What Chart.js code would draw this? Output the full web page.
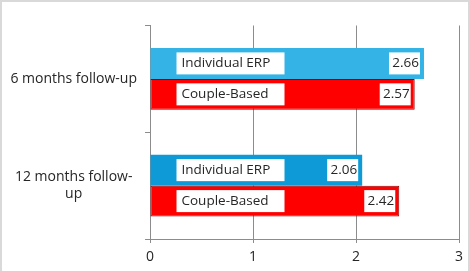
<!DOCTYPE html>
<html>
<head>
<meta charset="utf-8">
<script src="https://cdn.jsdelivr.net/npm/chart.js@4"></script>
<style>
  body { margin: 0; background: #fff; }
  #wrap { position: relative; width: 470px; height: 271px; overflow: hidden; }
  #frame { position: absolute; left: 0; top: 0; width: 466px; height: 290px; border: 2px solid #d9d9d9; pointer-events: none; }
</style>
</head>
<body>
<div id="wrap">
  <canvas id="myChart" width="470" height="271"></canvas>
  <div id="frame"></div>
</div>
<script>
var categories = ['6 months follow-up', ['12 months follow-', 'up']];
var seriesNames = ['Individual ERP', 'Couple-Based'];
var individualErp = [2.66, 2.06];
var coupleBased = [2.57, 2.42];
var xTicks = [0, 1, 2, 3];

var textColor = '#262626';
var gridColor = '#8c8c8c';

// white boxes with the series name and the value inside each bar
var barLabels = {
  id: 'barLabels',
  afterDatasetsDraw: function(chart) {
    var ctx = chart.ctx;
    ctx.save();
    ctx.font = '13.5px "Open Sans"';
    ctx.textBaseline = 'middle';
    chart.data.datasets.forEach(function(ds, di) {
      chart.getDatasetMeta(di).data.forEach(function(bar, i) {
        var p = bar.getProps(['x', 'y', 'base'], true);
        ctx.fillStyle = '#fff';
        ctx.fillRect(p.base + 26, p.y - 11, 108, 22);
        ctx.fillStyle = textColor;
        ctx.textAlign = 'left';
        ctx.fillText(ds.label, p.base + 31, p.y);

        ctx.fillStyle = '#fff';
        ctx.fillRect(p.x - 35, p.y - 11, 31, 22);
        ctx.fillStyle = textColor;
        ctx.textAlign = 'right';
        ctx.fillText(ds.data[i].toFixed(2), p.x - 5, p.y);
      });
    });
    ctx.restore();
  }
};

var ctx = document.getElementById('myChart').getContext('2d');
var chart = new Chart(ctx, {
  type: 'bar',
  data: {
    labels: categories,
    datasets: [{
      label: seriesNames[0],
      data: individualErp,
      backgroundColor: ['#33b3e6', '#0d9ad6'],
      borderWidth: 0
    }, {
      label: seriesNames[1],
      data: coupleBased,
      backgroundColor: '#ff0000',
      borderColor: '#990000',
      borderWidth: 1,
      borderSkipped: false
    }]
  },
  options: {
    indexAxis: 'y',
    responsive: false,
    animation: false,
    layout: { padding: { left: 0, right: 11, top: 10, bottom: 0 } },
    datasets: { bar: { barPercentage: 1, categoryPercentage: 0.58 } },
    plugins: {
      legend: { display: false },
      tooltip: { enabled: false }
    },
    scales: {
      x: {
        min: xTicks[0],
        max: xTicks[xTicks.length - 1],
        afterBuildTicks: function(scale) {
          scale.ticks = xTicks.map(function(v) { return { value: v }; });
        },
        afterFit: function(scale) { scale.height = 32; },
        grid: { color: gridColor, tickLength: 4, tickColor: gridColor },
        border: { color: gridColor },
        ticks: { color: textColor, padding: 6, font: { family: 'Open Sans', size: 14 } }
      },
      y: {
        afterFit: function(scale) { scale.width = 150; },
        grid: { offset: true, drawOnChartArea: false, tickLength: 5, color: gridColor },
        border: { color: gridColor },
        ticks: {
          color: textColor,
          padding: 8,
          crossAlign: 'center',
          font: { family: 'Open Sans', size: 14, lineHeight: 1.25 }
        }
      }
    }
  },
  plugins: [barLabels]
});
</script>
</body>
</html>
